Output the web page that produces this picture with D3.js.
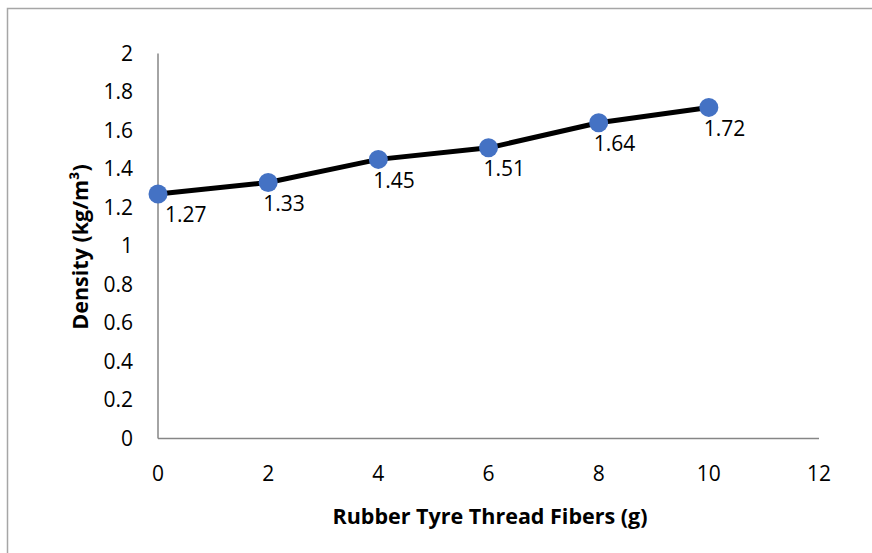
<!doctype html>
<html lang="en">
<head>
    <meta charset="utf-8"/>
    <title>Density vs fibers</title>
    <style>
        body { margin: 0; background: #fff; }
        svg { display: block; }
    </style>
</head>
<body>
    <svg></svg>
    <script src="https://d3js.org/d3.v7.min.js"></script>
    <script>
        // data
        const fibers = [0, 2, 4, 6, 8, 10];
        const density = [1.27, 1.33, 1.45, 1.51, 1.64, 1.72];
        const xTicks = [0, 2, 4, 6, 8, 10, 12];
        const yTicks = [0, 0.2, 0.4, 0.6, 0.8, 1, 1.2, 1.4, 1.6, 1.8, 2];

        const width = 872, height = 553;
        const font = "'Open Sans', 'Noto Sans', sans-serif";

        const svg = d3.select("svg")
            .attr("width", width)
            .attr("height", height)
            .style("font-family", font);

        // outer frame (only left and top edges are inside the picture)
        svg.append("rect")
            .attr("x", 7.5).attr("y", 8.5)
            .attr("width", 900).attr("height", 600)
            .attr("fill", "#fff")
            .attr("stroke", "#a6a6a6")
            .attr("stroke-width", 1.5);

        const x = d3.scaleLinear().domain([0, 12]).range([158, 819]);
        const y = d3.scaleLinear().domain([0, 2]).range([438.5, 53.5]);

        // axis lines
        svg.append("line")
            .attr("x1", x(0)).attr("x2", x(0))
            .attr("y1", y(0)).attr("y2", y(2))
            .attr("stroke", "#868686").attr("stroke-width", 1.5);
        svg.append("line")
            .attr("x1", x(0)).attr("x2", x(12))
            .attr("y1", y(0)).attr("y2", y(0))
            .attr("stroke", "#868686").attr("stroke-width", 1.5);

        // tick labels
        svg.append("g").selectAll("text")
            .data(yTicks)
            .enter().append("text")
                .attr("x", 133)
                .attr("y", d => y(d))
                .attr("dy", "0.35em")
                .attr("text-anchor", "end")
                .attr("font-size", 21)
                .attr("fill", "#000")
                .text(d => d);

        svg.append("g").selectAll("text")
            .data(xTicks)
            .enter().append("text")
                .attr("x", d => x(d))
                .attr("y", 473.5)
                .attr("dy", "0.35em")
                .attr("text-anchor", "middle")
                .attr("font-size", 21)
                .attr("fill", "#000")
                .text(d => d);

        // axis titles
        svg.append("text")
            .attr("x", 490)
            .attr("y", 516)
            .attr("dy", "0.35em")
            .attr("text-anchor", "middle")
            .attr("font-size", 21.5)
            .attr("font-weight", "bold")
            .text("Rubber Tyre Thread Fibers (g)");

        svg.append("text")
            .attr("transform", `translate(80,247) rotate(-90)`)
            .attr("dy", "0.35em")
            .attr("text-anchor", "middle")
            .attr("font-size", 21.5)
            .attr("font-weight", "bold")
            .text("Density (kg/m³)");

        const pts = fibers.map((f, i) => [f, density[i]]);

        svg.append("path")
            .datum(pts)
            .attr("fill", "none")
            .attr("stroke", "#000")
            .attr("stroke-width", 5)
            .attr("stroke-linejoin", "round")
            .attr("d", d3.line().x(d => x(d[0])).y(d => y(d[1])));

        svg.append("g").selectAll("circle")
            .data(pts)
            .enter().append("circle")
                .attr("cx", d => x(d[0]))
                .attr("cy", d => y(d[1]))
                .attr("r", 9.5)
                .attr("fill", "#4472c4");

        // first label is pushed right, clear of the y axis
        svg.append("g").selectAll("text")
            .data(pts)
            .enter().append("text")
                .attr("x", d => x(d[0]) + (d[0] === 0 ? 7 : -5))
                .attr("y", d => y(d[1]) + 21)
                .attr("dy", "0.35em")
                .attr("font-size", 21)
                .attr("fill", "#000")
                .text(d => d[1].toFixed(2));
    </script>
</body>
</html>
